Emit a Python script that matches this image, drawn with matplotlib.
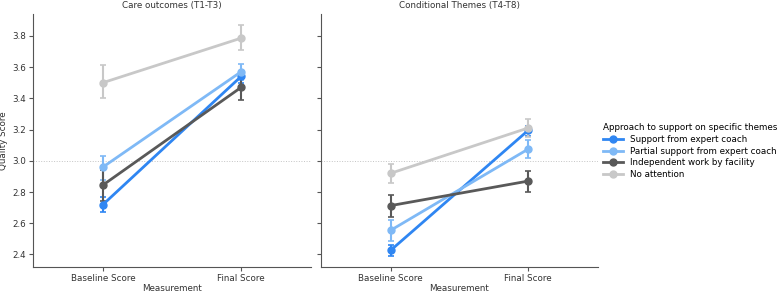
import numpy as np
from matplotlib import pyplot as plt

# Data
measurements = ['Baseline Score', 'Final Score']
groups = ['Support from expert coach', 'Partial support from expert coach',
          'Independent work by facility', 'No attention']
colors = ['#2f86f2', '#7fb9f6', '#595959', '#c8c8c8']

# Care outcomes (T1-T3): mean, lower, upper
care_mean = [[2.72, 3.54], [2.96, 3.57], [2.845, 3.47], [3.50, 3.785]]
care_low = [[2.675, 3.50], [2.88, 3.52], [2.745, 3.39], [3.40, 3.71]]
care_high = [[2.77, 3.55], [3.03, 3.62], [2.94, 3.55], [3.61, 3.87]]

# Conditional Themes (T4-T8)
cond_mean = [[2.427, 3.195], [2.555, 3.075], [2.713, 2.87], [2.92, 3.21]]
cond_low = [[2.39, 3.16], [2.485, 3.02], [2.64, 2.80], [2.86, 3.15]]
cond_high = [[2.46, 3.22], [2.62, 3.13], [2.78, 2.935], [2.98, 3.27]]

fs = 6.3
plt.rcParams['font.size'] = fs
fig = plt.figure(figsize=(7.78, 2.96), dpi=100)
ax1 = fig.add_axes([0.0424, 0.098, 0.3576, 0.855])
ax2 = fig.add_axes([0.4126, 0.098, 0.356, 0.855], sharey=ax1)

x = np.arange(len(measurements))
panels = [(ax1, 'Care outcomes (T1-T3)', care_mean, care_low, care_high),
          (ax2, 'Conditional Themes (T4-T8)', cond_mean, cond_low, cond_high)]

handles = []
for ax, title, mean, low, high in panels:
    ax.axhline(3.0, color='#c4c4c4', linestyle=':', linewidth=0.7, zorder=0)
    lines = []
    for i, g in enumerate(groups):
        m = np.array(mean[i])
        err = np.array([m - np.array(low[i]), np.array(high[i]) - m])
        c = ax.errorbar(x, m, yerr=err, color=colors[i], marker='o', markersize=5,
                        linewidth=2, elinewidth=1.5, capsize=2, capthick=1.2, label=g)
        lines.append(c.lines[0])
    handles = lines
    ax.set_title(title, fontsize=fs, pad=4, color='#333333')
    ax.set_xticks(x)
    ax.set_xticklabels(measurements)
    ax.set_xlim(-0.507, 1.507)
    ax.set_xlabel('Measurement', labelpad=1, color='#333333')
    ax.spines['top'].set_visible(False)
    ax.spines['right'].set_visible(False)
    for s in ['left', 'bottom']:
        ax.spines[s].set_color('#555555')
    ax.tick_params(colors='#555555', labelcolor='#333333', length=3, pad=2)

ax1.set_ylim(2.32, 3.94)
ax1.set_yticks([2.4, 2.6, 2.8, 3.0, 3.2, 3.4, 3.6, 3.8])
ax1.set_ylabel('Quality Score', color='#333333', labelpad=3)
plt.setp(ax2.get_yticklabels(), visible=False)

fig.legend(handles, groups, title='Approach to support on specific themes',
           loc='upper left', bbox_to_anchor=(0.771, 0.595), frameon=False,
           fontsize=fs, title_fontsize=fs, handlelength=2.2,
           labelspacing=0.3, borderaxespad=0, alignment='left')

plt.savefig('out.png', dpi=100)
